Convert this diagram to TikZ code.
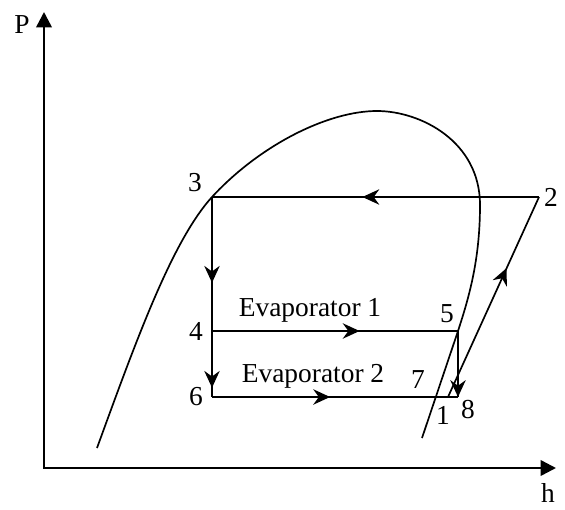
\documentclass[tikz,border=0pt]{standalone}
\usepackage{fontspec}
\setmainfont{Liberation Serif}
\usetikzlibrary{positioning,arrows.meta,decorations.markings}

\begin{document}
\begin{tikzpicture}[
  every node/.style={font=\fontsize{19.5}{23}\selectfont, inner sep=1pt},
  axis/.style={line width=1.8pt, {Triangle[length=11pt,width=11pt]}-{Triangle[length=11pt,width=11pt]}},
  cycle/.style={line width=1.2pt},
  dome/.style={line width=1.2pt},
  flow/.style={decoration={markings,
      mark=at position #1 with {\arrow{Stealth[length=12pt,width=11pt,inset=4pt]}}},
      postaction={decorate}}
]
  \useasboundingbox (0,0) rectangle (14.125,12.725);

  % Axes
  \coordinate (O)    at (1.1,1.025);
  \coordinate (ptip) at (1.1,12.425);
  \coordinate (htip) at (13.9,1.025);
  \draw[axis] (ptip) -- (O) -- (htip);
  \node (plab) at (0.55,12.1) {P};
  \node (hlab) at (13.7,0.4)  {h};

  % State points
  \coordinate (s3) at (5.3,7.8);
  \coordinate (s2) at (13.475,7.8);
  \coordinate (s4) at (5.3,4.45);
  \coordinate (s5) at (11.45,4.45);
  \coordinate (s6) at (5.3,2.8);
  \coordinate (s8) at (11.45,2.8);
  \coordinate (s1) at (11.2,2.8);

  % Saturation dome
  \coordinate (dl)  at (2.425,1.525);
  \coordinate (top) at (9.425,9.95);
  \coordinate (dr)  at (12.0,7.6);
  \coordinate (de)  at (10.55,1.775);
  \draw[dome] (dl) .. controls (3.4,4.2) and (4.3,6.7) .. (s3)
              .. controls (6.5,9.1) and (8.2,9.95) .. (top)
              .. controls (10.5,9.95) and (12.0,9.2) .. (dr)
              .. controls (12.0,6.2) and (11.71,5.25) .. (s5)
              -- (de);

  % Cycle
  \draw[cycle, flow=0.54] (s2) -- (s3);
  \draw[cycle, flow=0.64] (s3) -- (s4);
  \draw[cycle, flow=0.86] (s4) -- (s6);
  \draw[cycle, flow=0.60] (s4) -- (s5);
  \draw[cycle, flow=0.48] (s6) -- (s8);
  \draw[cycle, flow=1] (s5) -- (s8);
  \draw[cycle, flow=0.645] (s1) -- (s2);

  % Labels
  \node (l3) at (4.875,8.15)  {3};
  \node (l2) at (13.775,7.8)  {2};
  \node (l4) at (4.9,4.45)    {4};
  \node (l5) at (11.175,4.875){5};
  \node (l6) at (4.9,2.8)     {6};
  \node (l7) at (10.45,3.225) {7};
  \node (l1) at (11.075,2.35) {1};
  \node (l8) at (11.7,2.475)  {8};
  \node (ev1) at (7.75,4.975) {Evaporator 1};
  \node (ev2) at (7.825,3.325){Evaporator 2};
\end{tikzpicture}
\end{document}
